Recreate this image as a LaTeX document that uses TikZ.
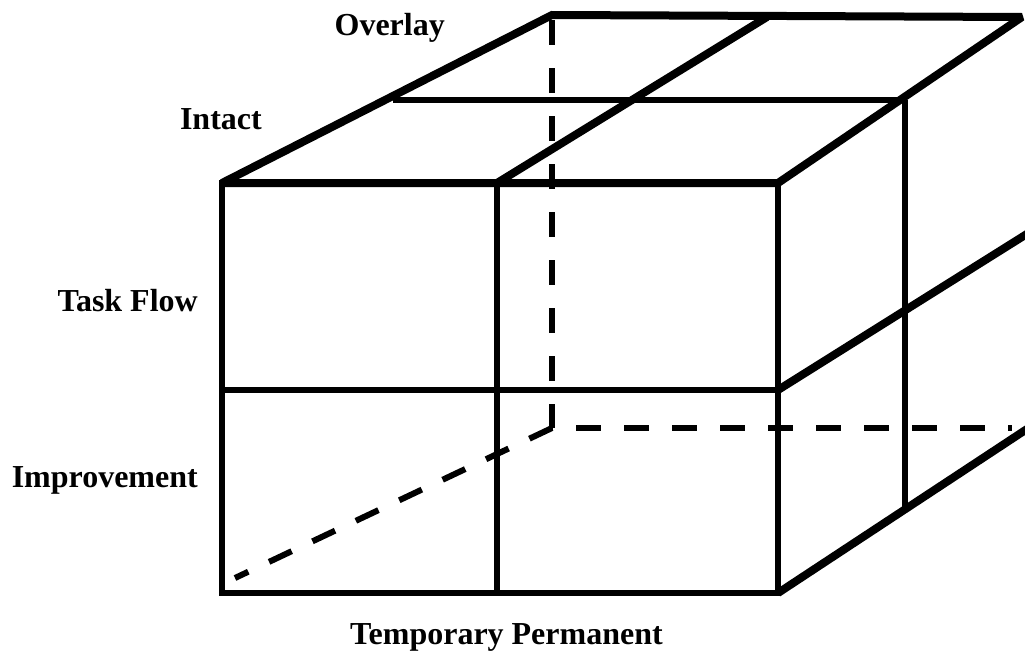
\documentclass[tikz,border=0pt]{standalone}
\usepackage{fontspec}
\setmainfont{Liberation Serif}
\usepackage{tikz}

\begin{document}
\begin{tikzpicture}[x=1pt,y=-1pt,
    edge/.style={line width=6pt,line cap=rect},
    rim/.style={line width=8pt,line join=miter,miter limit=2},
    hidden/.style={line width=6pt,dash pattern=on 25pt off 23pt},
    lbl/.style={font=\fontsize{32}{38}\selectfont\bfseries,inner sep=0pt}]
    \useasboundingbox (0,0) rectangle (1025,656);
    \clip (0,0) rectangle (1025,656);
    % corners of the cube
    \coordinate (fa) at (222,183);
    \coordinate (fb) at (778,183);
    \coordinate (fc) at (778,593);
    \coordinate (fd) at (222,593);
    \coordinate (ba) at (552,15);
    \coordinate (bb) at (1022,17);
    \coordinate (bd) at (552,428);
    % hidden edges
    \draw[hidden] (552,20) -- (bd) -- (1012,428);
    \draw[hidden] (bd) -- (235,578);
    % top face
    \draw[rim] (fa) -- (ba) -- (bb) -- (fb) -- cycle;
    \draw[line width=6pt] (393,100) -- (905,100);
    \draw[rim] (497,183) -- (767,17);
    % front face
    \draw[edge] (fa) rectangle (fc);
    \draw[edge] (497,183) -- (497,593);
    \draw[edge] (222,390) -- (778,390);
    % right face
    \draw[rim] (778,390) -- (1030,232);
    \draw[rim] (fc) -- (1030,427);
    \draw[line width=5.5pt] (905,100) -- (905,507);
    % labels
    \node[lbl,anchor=base east] (overlay) at (445,35) {Overlay};
    \node[lbl,anchor=base east] (intact) at (262,129) {Intact};
    \node[lbl,anchor=base east] (taskflow) at (198,311) {Task Flow};
    \node[lbl,anchor=base east] (improvement) at (198,487) {Improvement};
    \node[lbl,anchor=base west] (timeaxis) at (350,644) {Temporary Permanent};
\end{tikzpicture}
\end{document}
